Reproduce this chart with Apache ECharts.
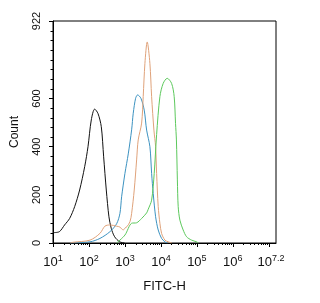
<!DOCTYPE html>
<html><head><meta charset="utf-8">
<script src="https://cdn.jsdelivr.net/npm/echarts@6/dist/echarts.min.js"></script>
<style>html,body{margin:0;padding:0;background:#fff}#c{width:320px;height:303px}</style>
</head><body><div id="c"></div>
<script>
// ---- data (FITC-H value, count) ----
const blackX = [10, 15, 21, 29, 40, 55, 76, 94, 116, 144, 178, 220, 256, 303, 359, 416, 517, 713, 977];
const blackY = [43, 47, 75, 102, 151, 220, 317, 400, 511, 556, 538, 483, 358, 220, 109, 61, 26, 5, 0];

const blueX = [30, 107, 202, 383, 588, 726, 809, 1000, 1237, 1535, 1702, 1982, 2253, 2782, 3435, 4009, 4943, 5518, 6113, 7125, 8419, 10450, 12910, 15000];
const blueY = [0, 5, 19, 47, 80, 123, 192, 289, 370, 470, 539, 601, 615, 601, 552, 469, 400, 289, 206, 109, 54, 19, 5, 0];

const orangeX = [30, 36, 107, 202, 278, 383, 588, 726, 897, 1000, 1137, 1377, 1535, 1813, 2113, 2339, 2911, 3222, 3594, 4161, 4943, 5518, 6395, 7125, 7598, 8419, 9380, 10450, 12910, 15960, 20000];
const orangeY = [0, 3, 12, 40, 70, 75, 70, 66, 54, 62, 68, 88, 123, 220, 345, 428, 498, 608, 746, 835, 746, 608, 469, 400, 289, 151, 82, 40, 12, 5, 0];

const greenX = [588, 1000, 1535, 2113, 2911, 4009, 4437, 5518, 6514, 7598, 9380, 11580, 14960, 19810, 23390, 25500, 27000, 28700, 30260, 33730, 41600, 51740, 71260, 98100, 110000];
const greenY = [0, 33, 82, 84, 102, 125, 140, 178, 289, 450, 608, 663, 684, 663, 608, 497, 428, 262, 151, 95, 54, 26, 12, 5, 0];

// ---- axes ----
const X_MIN = 10;
const X_MAX = 15848932; // 10^7.2
const xMajorTicks = [10, 100, 1000, 10000, 100000, 1000000, 10000000];
const xMinorTicks = [];
for (const d of [10, 100, 1000, 10000, 100000, 1000000]) {
  for (let k = 2; k <= 9; k++) xMinorTicks.push(d * k);
}
const xLabelValues = [10, 100, 1000, 10000, 100000, 1000000, X_MAX];
const xLabelExp = ['1', '2', '3', '4', '5', '6', '7.2'];

const Y_MAX = 922;
const yMajorTicks = [0, 200, 400, 600, 922];
const yLabelValues = [0, 200, 400, 600, 922];
const yMinorTicks = [];
for (let v = 40; v <= 880; v += 40) yMinorTicks.push(v);

const FONT = 'Liberation Sans, Arial, sans-serif';

function pairs(xs, ys) { return xs.map((x, i) => [x, ys[i]]); }
function lineSeries(xs, ys, color) {
  return {
    type: 'line', data: pairs(xs, ys), xAxisIndex: 0, yAxisIndex: 0,
    showSymbol: false, symbol: 'none', smooth: 0.3, clip: true,
    lineStyle: { color: color, width: 1 }, emphasis: { disabled: true }
  };
}

const chart = echarts.init(document.getElementById('c'), null, { renderer: 'canvas' });
chart.setOption({
  animation: false,
  backgroundColor: '#fff',
  grid: { left: 53, top: 21, right: 44, bottom: 60, show: true, borderColor: '#000', borderWidth: 1, containLabel: false },
  xAxis: [{
    type: 'log', logBase: 10, min: X_MIN, max: X_MAX,
    name: 'FITC-H', nameLocation: 'middle', nameGap: 37,
    nameTextStyle: { fontFamily: FONT, fontSize: 13, color: '#111' },
    axisLine: { show: true, lineStyle: { color: '#000', width: 1 } },
    axisTick: { show: true, length: 4, customValues: xMajorTicks, lineStyle: { color: '#000' } },
    axisLabel: {
      customValues: xLabelValues, margin: 11, color: '#111', fontFamily: FONT,
      formatter: function (v) {
        const i = xLabelValues.indexOf(v);
        let e = i >= 0 ? xLabelExp[i] : String(Math.round(Math.log10(v) * 10) / 10);
        return e === '7.2' ? '{b|10}{sl|' + e + '}' : '{b|10}{s|' + e + '}';
      },
      rich: {
        b: { fontSize: 13, fontFamily: FONT, color: '#111', lineHeight: 16 },
        s: { fontSize: 9, fontFamily: FONT, color: '#111', padding: [0, 0, 8, 0] },
        sl: { fontSize: 9, fontFamily: FONT, color: '#111', padding: [0, 10, 8, 0] }
      }
    },
    splitLine: { show: false }
  }, {
    type: 'log', logBase: 10, min: X_MIN, max: X_MAX, position: 'bottom',
    axisLine: { show: false },
    axisTick: { show: true, length: 2, customValues: xMinorTicks, lineStyle: { color: '#000' } },
    axisLabel: { show: false }, splitLine: { show: false }
  }],
  yAxis: [{
    type: 'value', min: 0, max: Y_MAX,
    name: 'Count', nameLocation: 'middle', nameGap: 32,
    nameTextStyle: { fontFamily: FONT, fontSize: 12, color: '#111' },
    axisLine: { show: true, lineStyle: { color: '#000', width: 1 } },
    axisTick: { show: true, length: 4, customValues: yMajorTicks, lineStyle: { color: '#000' } },
    axisLabel: { customValues: yLabelValues, rotate: 90, margin: 11, fontSize: 11, fontFamily: FONT, color: '#111' },
    splitLine: { show: false }
  }, {
    type: 'value', min: 0, max: Y_MAX, position: 'left',
    axisLine: { show: false },
    axisTick: { show: true, length: 2.5, customValues: yMinorTicks, lineStyle: { color: '#000' } },
    axisLabel: { show: false }, splitLine: { show: false }
  }],
  series: [
    lineSeries(blackX, blackY, '#111111'),
    lineSeries(blueX, blueY, '#3c92c0'),
    lineSeries(orangeX, orangeY, '#dfa27a'),
    lineSeries(greenX, greenY, '#5cc85c')
  ]
});
</script></body></html>
